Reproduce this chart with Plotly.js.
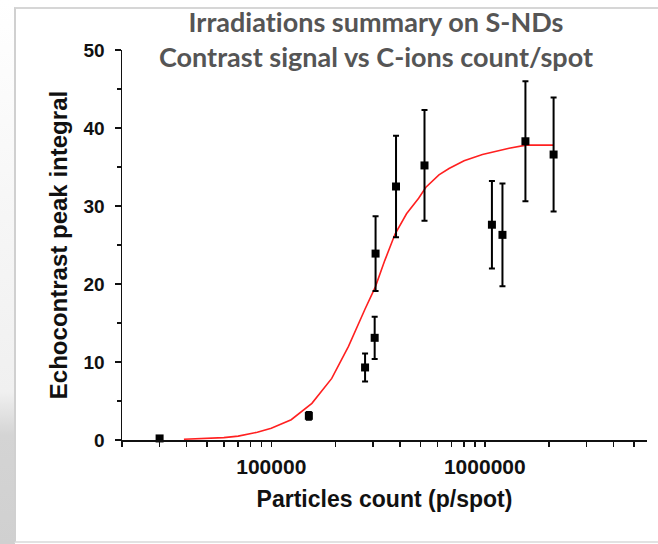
<!DOCTYPE html>
<html>
<head>
<meta charset="utf-8">
<script src="https://cdn.plot.ly/plotly-3.0.1.min.js"></script>
<style>
  html, body { margin: 0; padding: 0; background: #ffffff; }
  #wrap { position: relative; width: 658px; height: 544px; overflow: hidden; background: #ffffff; }
  #shade { position: absolute; left: 0; top: 0; width: 15px; height: 544px;
    background: linear-gradient(to bottom, #ffffff 0%, #f6f6f6 40%, #f0f0f0 72%, #d4d4d4 80%, #d0d0d0 100%); }
  #frame { position: absolute; left: 14px; top: 7px; width: 660px; height: 532px;
    border-top: 2px solid #d6d6d6; border-left: 2px solid #d0d0d0; border-bottom: 2px solid #e2e2e2; background: #ffffff; }
  #chart { position: absolute; left: 0; top: 0; width: 658px; height: 544px; }
  #chart text { font-variant-ligatures: none !important; font-feature-settings: "liga" 0, "clig" 0, "dlig" 0 !important; letter-spacing: 0.01px; }
</style>
</head>
<body>
<div id="wrap">
  <div id="shade"></div>
  <div id="frame"></div>
  <div id="chart"></div>
</div>
<script>
// Measured points (particles per spot, echocontrast peak integral, error)
const particles = [30000, 150000, 275000, 305000, 308000, 384000, 522000, 1080000, 1210000, 1550000, 2100000];
const peakIntegral = [0.2, 3.1, 9.3, 13.1, 23.9, 32.5, 35.2, 27.6, 26.3, 38.3, 36.6];
const peakError = [0, 0.5, 1.8, 2.7, 4.8, 6.5, 7.1, 5.6, 6.6, 7.7, 7.3];

// Fitted curve
const fitParticles = [39000, 50000, 60000, 70000, 86000, 100000, 124000, 155000, 192000, 230000, 250000, 275000, 307000, 340000, 380000, 430000, 490000, 530000, 610000, 680000, 800000, 975000, 1300000, 1560000, 2100000];
const fitIntegral = [0.1, 0.2, 0.3, 0.5, 1.0, 1.5, 2.6, 4.7, 7.9, 12.0, 14.3, 16.8, 19.6, 23.0, 26.4, 29.0, 31.0, 32.4, 34.0, 34.8, 35.8, 36.6, 37.4, 37.8, 37.8];

// Axis ticks
const xTickVals = [20000, 30000, 40000, 50000, 60000, 70000, 80000, 90000, 100000, 200000, 300000, 400000, 500000, 600000, 700000, 800000, 900000, 1000000, 2000000, 3000000, 4000000, 5000000];
const xTickText = ['', '', '', '', '', '', '', '', '100000', '', '', '', '', '', '', '', '', '1000000', '', '', '', ''];
const yTickVals = [0, 10, 20, 30, 40, 50];

const titleText = 'Irradiations summary on S-NDs<br>Contrast signal vs C-ions count/spot';
const xTitle = 'Particles count (p/spot)';
const yTitle = 'Echocontrast peak integral';

const traces = [
  {
    x: fitParticles, y: fitIntegral, type: 'scatter', mode: 'lines',
    line: { color: '#ff2020', width: 1.6 }, hoverinfo: 'skip', showlegend: false, cliponaxis: false
  },
  {
    x: particles, y: peakIntegral, type: 'scatter', mode: 'markers',
    marker: { symbol: 'square', size: 8, color: '#000000' },
    error_y: { type: 'data', array: peakError, visible: true, color: '#000000', thickness: 2, width: 3 },
    showlegend: false, cliponaxis: false
  }
];

const sans = 'Liberation Sans, Arial, sans-serif';

const layout = {
  width: 658, height: 544,
  margin: { l: 122, r: 11, t: 50, b: 104 },
  paper_bgcolor: 'rgba(0,0,0,0)',
  plot_bgcolor: 'rgba(0,0,0,0)',
  showlegend: false,
  title: {
    text: titleText,
    font: { family: 'Lato, Open Sans, sans-serif', size: 27, color: '#555555', weight: 'bold' },
    xref: 'container', yref: 'container', x: 0.5714, xanchor: 'center', y: 0.941, yanchor: 'middle'
  },
  xaxis: {
    type: 'log',
    range: [Math.log10(20000), Math.log10(5.75e6)],
    tickmode: 'array', tickvals: xTickVals, ticktext: xTickText,
    ticks: 'outside', ticklen: 5, tickwidth: 1.5, tickcolor: '#111111',
    showline: true, linecolor: '#111111', linewidth: 1.5,
    showgrid: false, zeroline: false,
    ticklabelstandoff: 2,
    tickfont: { family: sans, size: 21, color: '#111111', weight: 'bold' },
    title: { text: xTitle, font: { family: sans, size: 23, color: '#111111', weight: 'bold' }, standoff: 14 },
    automargin: false
  },
  yaxis: {
    range: [0, 50],
    tickmode: 'array', tickvals: yTickVals,
    ticks: 'outside', ticklen: 6, tickwidth: 1.5, tickcolor: '#111111',
    minor: { dtick: 5, ticks: 'outside', ticklen: 4, tickwidth: 1.5, tickcolor: '#111111' },
    showline: true, linecolor: '#111111', linewidth: 1.5,
    showgrid: false, zeroline: false,
    ticklabelstandoff: 6,
    tickfont: { family: sans, size: 19, color: '#111111', weight: 'bold' },
    title: { text: yTitle, font: { family: sans, size: 24, color: '#111111', weight: 'bold' }, standoff: 9 },
    automargin: false
  }
};

Plotly.newPlot('chart', traces, layout, { displayModeBar: false, staticPlot: true });
</script>
</body>
</html>
